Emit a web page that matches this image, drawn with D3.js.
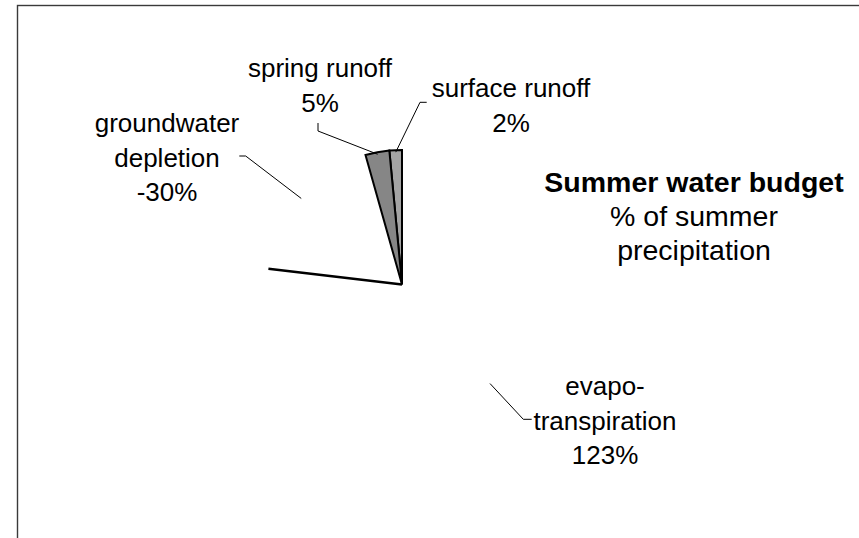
<!DOCTYPE html>
<html><head><meta charset="utf-8">
<script src="https://cdn.jsdelivr.net/npm/d3@7"></script>
<style>
html,body{margin:0;padding:0;background:#fff;}
svg{display:block;font-family:"Liberation Sans",Arial,sans-serif;}
</style></head>
<body>
<script>
// ---- data ----
const categories = ["surface runoff", "spring runoff", "groundwater depletion", "evapotranspiration"];
const labelLines = [["surface runoff"], ["spring runoff"], ["groundwater", "depletion"], ["evapo-", "transpiration"]];
const values = [2.4, 4.6, -30, 123];   // % of summer precipitation
const titleLines = ["Summer water budget", "% of summer", "precipitation"];
const fills = ["#a4a4a4", "#868686", "none", "none"];

// ---- layout ----
const W = 859, H = 538;
const cx = 402, cy = 284.5, R = 134.5;
const svg = d3.select("body").append("svg").attr("width", W).attr("height", H);

svg.append("rect").attr("x", 17.5).attr("y", 5.5).attr("width", 900).attr("height", 600)
  .attr("fill", "none").attr("stroke", "#3a3a3a").attr("stroke-width", 1.4);

const pie = d3.pie().value(d => Math.abs(d)).sort(null).startAngle(0).endAngle(-2 * Math.PI);
const arcs = pie(values);
const arc = d3.arc().innerRadius(0).outerRadius(R);
const g = svg.append("g").attr("transform", `translate(${cx},${cy})`);

// filled slices
g.selectAll("path.slice").data(arcs.filter((d, i) => fills[i] !== "none")).join("path")
  .attr("class", "slice").attr("d", arc)
  .attr("fill", d => fills[d.index]).attr("stroke", "#000").attr("stroke-width", 2).attr("stroke-linejoin", "miter");

// boundary between groundwater and evapotranspiration
const bAng = arcs[2].endAngle;
g.append("line").attr("x1", 0).attr("y1", 0)
  .attr("x2", R * Math.sin(bAng)).attr("y2", -R * Math.cos(bAng))
  .attr("stroke", "#000").attr("stroke-width", 2.6);

// labels
const fmt = v => `${Math.round(v)}%`;
const fs = 26, lh = 34.5;
const labelPos = [
  {x: 511, y: 97, elbow: [420, 102.3], end: [426.7, 102.3]},
  {x: 320, y: 77, elbow: [318, 131], end: [318, 123]},
  {x: 167, y: 132, elbow: [245.7, 156], end: [239.3, 156]},
  {x: 605, y: 395, elbow: [523.3, 419.3], end: [531.7, 419.3]}
];
const arcPt = d3.arc().innerRadius(R - 2).outerRadius(R - 2);
arcs.forEach((d, i) => {
  const p = labelPos[i];
  const c = arcPt.centroid(d);
  svg.append("polyline")
    .attr("points", [[cx + c[0], cy + c[1]], p.elbow, p.end].map(q => q.join(",")).join(" "))
    .attr("fill", "none").attr("stroke", "#000").attr("stroke-width", 1);
  const lines = labelLines[i].concat([fmt(values[i])]);
  const t = svg.append("text").attr("text-anchor", "middle").attr("font-size", fs).attr("fill", "#000");
  lines.forEach((s, k) => t.append("tspan").attr("x", p.x).attr("y", p.y + k * lh).text(s));
});

// title
const tt = svg.append("text").attr("text-anchor", "middle").attr("fill", "#000").attr("font-size", 28.5);
titleLines.forEach((s, k) => tt.append("tspan").attr("x", 694).attr("y", 192 + k * 34)
  .attr("font-weight", k === 0 ? "bold" : "normal").text(s));
</script>
</body></html>
